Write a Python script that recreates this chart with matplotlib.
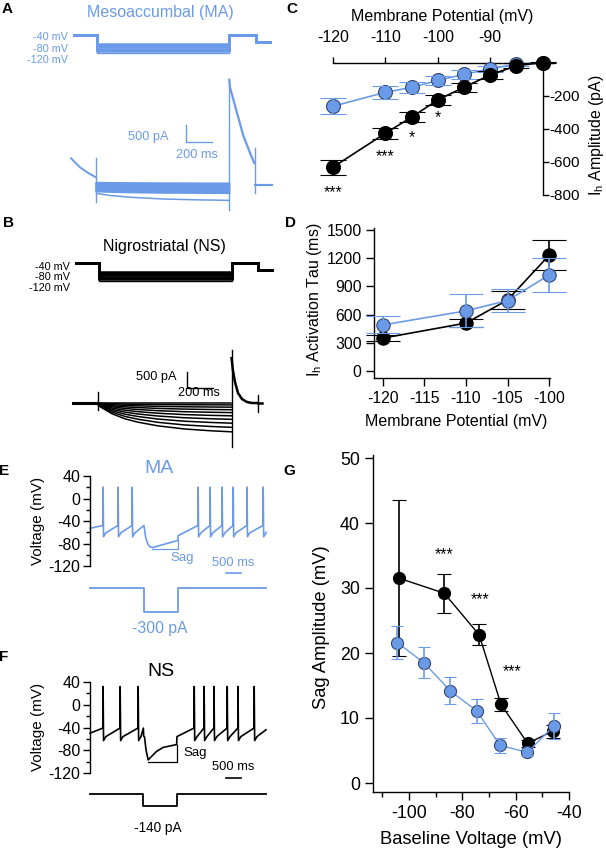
import numpy as np
import matplotlib
matplotlib.use('Agg')
import matplotlib.pyplot as plt

plt.rcParams['font.family'] = ['Liberation Sans', 'DejaVu Sans']
plt.rcParams['mathtext.default'] = 'regular'
plt.rcParams['axes.linewidth'] = 1.0
plt.rcParams['axes.unicode_minus'] = False

W, H = 606, 852
BLUE = '#6b9be8'
BLK = '#000000'
EDGE_B = '#34466b'

# ---------------- data ----------------
# A/B voltage protocols (ms, mV)
prot_t = [0, 180, 1190, 1390, 1505]
prot_hold = -40
prot_after = -70
step_mv = [-80, -85, -90, -95, -100, -105, -110, -120]

# A (MA) current keypoints (ms, pA)
a_pre_t = [-15, 50, 115, 170]
a_pre_i = [800, 540, 360, 240]
a_on_i = [800, -510]
a_band_start = [60, 25, -10, -45, -80, -115, -150, -185, -250]
a_band_end = [40, 0, -35, -75, -115, -155, -195, -235, -460]
a_act_t = [0, 100, 250, 500, 750, 1008]
a_act_f = [0, 0.3, 0.55, 0.8, 0.92, 1.0]
a_off_i = [-750, 3150]
a_tail_t = [1190, 1196, 1249, 1295, 1348, 1380]
a_tail_i = [3150, 2910, 2160, 1500, 960, 660]
a_end_i = [1110, -240]
a_post_t = [1383, 1515]

# B (NS) current keypoints (ms, pA)
b_base_t = [-15, 175]
b_on_i = [340, -220]
b_fan_start = [0, -10, -20, -30, -40, -50, -60, -70, -80, -90]
b_fan_end = [0, -60, -130, -210, -300, -400, -510, -630, -760, -900]
b_act_t = [0, 50, 100, 200, 300, 450, 650, 850, 1008]
b_act_f = [0, 0.15, 0.3, 0.5, 0.63, 0.77, 0.89, 0.96, 1.0]
b_off_i = [-1370, 1650]
b_tail_t = [1190, 1200, 1216, 1239, 1269, 1307, 1345, 1388]
b_tail_i = [1400, 1030, 656, 312, 125, 31, 0, 0]
b_end_i = [250, -280]
b_post_t = [1392, 1420]

# C: Ih amplitude vs membrane potential
c_v = [-120, -110, -105, -100, -95, -90, -85, -80]
c_ma = [-264, -180, -150, -108, -72, -38, -10, 0]
c_ma_err = [47, 40, 32, 27, 25, 18, 10, 5]
c_ns = [-632, -427, -330, -226, -150, -75, -20, 0]
c_ns_err = [45, 33, 30, 30, 28, 22, 15, 5]
c_star_txt = ['***', '***', '*', '*']
c_star_v = [-120, -110, -105, -100]
c_star_y = [-785, -570, -455, -335]

# D: Ih activation tau
d_v = [-120, -110, -105, -100]
d_ns = [350, 510, 755, 1230]
d_ns_err = [30, 40, 100, 160]
d_ma = [490, 640, 750, 1020]
d_ma_err = [90, 175, 125, 180]

# E/F: current-clamp traces (s, mV)
e_spk_pre = [0.43, 0.93, 1.40]
e_spk_post = [3.60, 4.00, 4.40, 4.77, 5.23, 5.77]
e_start, e_thr, e_peak, e_ahp = -53, -48, 20, -68
e_hyp_t = [1.80, 1.86, 1.93, 2.00, 2.10, 2.90, 2.93, 2.94]
e_hyp_v = [-48, -70, -81, -86, -87, -75, -75, -66]
e_end = [5.87, -60]
e_sag_t = [2.06, 2.94, 2.94]
e_sag_v = [-89.5, -89.5, -75]
e_step_t = [0, 1.80, 2.93, 5.87]
e_step_pa = -300

f_spk_pre = [0.43, 1.00, 1.60]
f_spk_post = [3.47, 3.80, 4.13, 4.57, 4.93, 5.47]
f_start, f_thr, f_peak, f_ahp = -50, -41, 32, -63
f_hyp_t = [1.78, 1.79, 1.82, 1.87, 1.94, 2.05, 2.22, 2.44, 2.89, 2.90]
f_hyp_v = [-41, -55, -57, -80, -97, -91, -82, -75, -70, -56]
f_end = [5.87, -44]
f_sag_t = [1.93, 2.90, 2.90]
f_sag_v = [-100, -100, -70]
f_step_t = [0, 1.78, 2.90, 5.87]
f_step_pa = -140

# G: sag amplitude vs baseline voltage
g_ns_v = [-103.7, -86.8, -73.7, -65.5, -55.5, -46.0]
g_ns = [31.5, 29.2, 22.8, 12.1, 6.1, 8.0]
g_ns_err = [12.0, 3.0, 1.6, 1.0, 0.5, 1.0]
g_ma_v = [-104.4, -94.4, -84.6, -74.6, -65.9, -55.6, -45.7]
g_ma = [21.6, 18.5, 14.2, 11.1, 5.8, 4.7, 8.8]
g_ma_err = [2.5, 2.4, 2.1, 1.9, 1.2, 0.5, 2.0]
g_star_v = [-87.0, -73.4, -61.2]
g_star_y = [35.2, 28.2, 17.1]

# ---------------- helpers ----------------
fig = plt.figure(figsize=(W / 100, H / 100), dpi=100)


def box(x0, y0, x1, y1):
    return [x0 / W, 1 - y1 / H, (x1 - x0) / W, (y1 - y0) / H]


def ftext(x, y, s, **kw):
    kw.setdefault('ha', 'center')
    kw.setdefault('va', 'center')
    return fig.text(x / W, 1 - y / H, s, **kw)


def mk(x0, y0, x1, y1, xref, yref, off=True):
    ax = fig.add_axes(box(x0, y0, x1, y1))
    pa, va, pb, vb = xref
    s = (vb - va) / (pb - pa)
    ax.set_xlim(va + (x0 - pa) * s, va + (x1 - pa) * s)
    pa, va, pb, vb = yref
    s = (vb - va) / (pb - pa)
    ax.set_ylim(va + (y1 - pa) * s, va + (y0 - pa) * s)
    if off:
        ax.axis('off')
    return ax


def ebar(ax, x, y, e, color, mec, ms, cap, z=3, lw=1.2):
    c = ax.errorbar(x, y, yerr=e, color=color, marker='o', ms=ms, mfc=color,
                    mec=mec, mew=0.8, lw=lw, elinewidth=1.2, capsize=cap,
                    capthick=1.2, zorder=z)
    arts = [c.lines[0]] + list(c.lines[1]) + list(c.lines[2])
    for a in arts:
        a.set_clip_on(False)
        a.set_zorder(z)
    return c


def protocol(ax, color):
    for v in step_mv:
        t = [prot_t[0], prot_t[1], prot_t[1], prot_t[2], prot_t[2], prot_t[3], prot_t[3], prot_t[4]]
        y = [prot_hold, prot_hold, v, v, prot_hold, prot_hold, prot_after, prot_after]
        lw = 1.0 if v == step_mv[-1] else 1.8
        ax.plot(t, y, color=color, lw=lw, solid_joinstyle='miter', solid_capstyle='butt')


def spikes(ts, vs, spk, thr, peak, ahp):
    for s in spk:
        ts += [s, s + 0.006, s + 0.022, s + 0.1]
        vs += [thr, peak, ahp, ahp + 7]


def vtrace(start, spk_pre, hyp_t, hyp_v, spk_post, thr, peak, ahp, end):
    ts, vs = [0.0], [start]
    spikes(ts, vs, spk_pre, thr, peak, ahp)
    ts += list(hyp_t)
    vs += list(hyp_v)
    spikes(ts, vs, spk_post, thr, peak, ahp)
    if ts[-1] >= end[0]:
        ts.pop(); vs.pop()
    ts.append(end[0]); vs.append(end[1])
    return ts, vs


# ---------------- Panel A ----------------
ftext(7, 9, 'A', fontsize=11, fontweight='bold')
ftext(160, 13, 'Mesoaccumbal (MA)', fontsize=11.5, color=BLUE)
axAp = mk(60, 25, 285, 65, (73, 0, 270, 1500), (35, -40, 53, -120))
protocol(axAp, BLUE)
for yy, s in zip([37, 49, 60], ['-40 mV', '-80 mV', '-120 mV']):
    ftext(68, yy, s, ha='right', fontsize=7.8, color=BLUE)

axAc = mk(60, 70, 285, 215, (73, 0, 270, 1500), (185, 0, 168.3, 500))
axAc.plot(a_pre_t, a_pre_i, color=BLUE, lw=1.4)
axAc.plot([172, 172], a_on_i, color=BLUE, lw=1.0)
for k, (s0, s1) in enumerate(zip(a_band_start, a_band_end)):
    t = [prot_t[1] + tt for tt in a_act_t]
    i = [s0 + (s1 - s0) * f for f in a_act_f]
    lw = 1.1 if k == len(a_band_start) - 1 else 1.8
    axAc.plot(t, i, color=BLUE, lw=lw)
axAc.plot([prot_t[2], prot_t[2]], a_off_i, color=BLUE, lw=1.0)
axAc.plot(a_tail_t, a_tail_i, color=BLUE, lw=1.6)
axAc.plot([1382, 1382], a_end_i, color=BLUE, lw=1.0)
axAc.plot(a_post_t, [0, 0], color=BLUE, lw=1.6)
# scale bar 500 pA / 200 ms
axAc.plot([860, 860, 1060], [1790, 1290, 1290], color=BLUE, lw=1.0)
ftext(168, 137, '500 pA', ha='right', fontsize=9.2, color=BLUE)
ftext(197, 155, '200 ms', fontsize=9.2, color=BLUE)

# ---------------- Panel B ----------------
ftext(9, 223, 'B', fontsize=11, fontweight='bold')
ftext(164, 246, 'Nigrostriatal (NS)', fontsize=11.5, color=BLK)
axBp = mk(60, 255, 285, 292, (75, 0, 273, 1505), (263, -40, 272, -80))
protocol(axBp, BLK)
for yy, s in zip([267, 277, 288], ['-40 mV', '-80 mV', '-120 mV']):
    ftext(70, yy, s, ha='right', fontsize=7.8, color=BLK)

axBc = mk(60, 340, 285, 450, (75, 0, 273, 1505), (403, 0, 387, 500))
axBc.plot(b_base_t, [0, 0], color=BLK, lw=2.2)
axBc.plot([177, 177], b_on_i, color=BLK, lw=1.0)
for s0, s1 in zip(b_fan_start, b_fan_end):
    t = [prot_t[1] + tt for tt in b_act_t]
    i = [s0 + (s1 - s0) * f for f in b_act_f]
    axBc.plot(t, i, color=BLK, lw=1.1)
axBc.plot([prot_t[2], prot_t[2]], b_off_i, color=BLK, lw=1.0)
axBc.plot(b_tail_t, b_tail_i, color=BLK, lw=1.8)
axBc.plot([1390, 1390], b_end_i, color=BLK, lw=1.0)
axBc.plot(b_post_t, [0, 0], color=BLK, lw=1.8)
axBc.plot([851, 851, 1051], [970, 470, 470], color=BLK, lw=1.0)
ftext(177, 377, '500 pA', ha='right', fontsize=9.2, color=BLK)
ftext(199, 393, '200 ms', fontsize=9.2, color=BLK)

# ---------------- Panel C ----------------
ftext(292, 9, 'C', fontsize=11, fontweight='bold')
axC = fig.add_axes(box(333, 62.5, 553, 195))
axC.set_xlim(-120, -78)
axC.set_ylim(-800, 0)
ebar(axC, c_v, c_ma, c_ma_err, BLUE, EDGE_B, 10, 9.5, z=3)
ebar(axC, c_v, c_ns, c_ns_err, BLK, BLK, 10, 9.5, z=4)
for s, v, y in zip(c_star_txt, c_star_v, c_star_y):
    axC.text(v, y, s, ha='center', va='center', fontsize=11.5)
axC.spines['left'].set_visible(False)
axC.spines['bottom'].set_visible(False)
axC.spines['right'].set_position(('data', -80))
axC.xaxis.tick_top()
axC.yaxis.tick_right()
axC.set_xticks([-120, -110, -100, -90])
axC.set_yticks([-200, -400, -600, -800])
axC.tick_params(axis='x', direction='out', length=4.5, width=1, pad=8, labelsize=11.5)
axC.tick_params(axis='y', direction='out', length=4, width=1, pad=1, labelsize=11)
ftext(442, 17, 'Membrane Potential (mV)', fontsize=11.5)
ftext(596, 135, 'I$_h$ Amplitude (pA)', fontsize=11.4, rotation=90)

# ---------------- Panel D ----------------
ftext(291, 223, 'D', fontsize=11, fontweight='bold')
axD = mk(374, 228, 550, 378, (383, -120, 549, -100), (371, 0, 230, 1500), off=False)
ebar(axD, d_v, d_ns, d_ns_err, BLK, BLK, 9.6, 12, z=3)
ebar(axD, d_v, d_ma, d_ma_err, BLUE, EDGE_B, 9.6, 12, z=4)
axD.spines['top'].set_visible(False)
axD.spines['right'].set_visible(False)
axD.set_xticks([-120, -115, -110, -105, -100])
axD.set_yticks([0, 300, 600, 900, 1200, 1500])
axD.tick_params(direction='out', length=5.5, width=1, labelsize=11.3)
axD.tick_params(axis='x', pad=4)
ftext(456, 422, 'Membrane Potential (mV)', fontsize=11.5)
ftext(315, 300, 'I$_h$ Activation Tau (ms)', fontsize=11.5, rotation=90)

# ---------------- Panel E ----------------
ftext(4, 471, 'E', fontsize=11, fontweight='bold')
ftext(159, 468, 'MA', fontsize=14, color=BLUE)
axE = fig.add_axes(box(90, 476, 266, 566))
axE.set_xlim(0, 5.87)
axE.set_ylim(-120, 40)
et, ev = vtrace(e_start, e_spk_pre, e_hyp_t, e_hyp_v, e_spk_post, e_thr, e_peak, e_ahp, e_end)
axE.plot(et, ev, color=BLUE, lw=1.2, clip_on=False)
axE.plot(e_sag_t, e_sag_v, color=BLUE, lw=0.9, clip_on=False)
axE.text(2.67, -105, 'Sag', fontsize=9.5, color=BLUE, ha='left', va='center')
axE.plot([4.53, 5.03], [-131.6, -131.6], color=BLUE, lw=1.2, clip_on=False)
axE.text(4.78, -114, '500 ms', fontsize=9.3, color=BLUE, ha='center', va='center')
ftext(38, 521, 'Voltage (mV)', fontsize=11, rotation=90)

axEs = mk(85, 580, 270, 620, (90, 0, 266, 5.87), (588, 0, 612, -300))
axEs.plot([e_step_t[0], e_step_t[1], e_step_t[1], e_step_t[2], e_step_t[2], e_step_t[3]],
          [0, 0, e_step_pa, e_step_pa, 0, 0], color=BLUE, lw=1.3)
ftext(160, 628, '-300 pA', fontsize=11.3, color=BLUE)

# ---------------- Panel F ----------------
ftext(4, 657, 'F', fontsize=11, fontweight='bold')
ftext(161, 672, 'NS', fontsize=14, color=BLK)
axF = fig.add_axes(box(90, 682, 266, 773))
axF.set_xlim(0, 5.87)
axF.set_ylim(-120, 40)
ft, fv = vtrace(f_start, f_spk_pre, f_hyp_t, f_hyp_v, f_spk_post, f_thr, f_peak, f_ahp, f_end)
axF.plot(ft, fv, color=BLK, lw=1.2, clip_on=False)
axF.plot(f_sag_t, f_sag_v, color=BLK, lw=0.9, clip_on=False)
axF.text(3.1, -84, 'Sag', fontsize=9.5, color=BLK, ha='left', va='center')
axF.plot([4.53, 5.03], [-128, -128], color=BLK, lw=1.2, clip_on=False)
axF.text(4.78, -109, '500 ms', fontsize=9.3, color=BLK, ha='center', va='center')
ftext(38, 727, 'Voltage (mV)', fontsize=11, rotation=90)

axFs = mk(85, 785, 270, 815, (90, 0, 266, 5.87), (794, 0, 806, -140))
axFs.plot([f_step_t[0], f_step_t[1], f_step_t[1], f_step_t[2], f_step_t[2], f_step_t[3]],
          [0, 0, f_step_pa, f_step_pa, 0, 0], color=BLK, lw=1.3)
ftext(158, 828, '-140 pA', fontsize=9.8, color=BLK)

for ax in (axE, axF):
    ax.spines['top'].set_visible(False)
    ax.spines['right'].set_visible(False)
    ax.spines['bottom'].set_visible(False)
    ax.set_xticks([])
    ax.set_yticks([40, 0, -40, -80, -120])
    ax.set_yticks([20, -20, -60, -100], minor=True)
    ax.tick_params(axis='y', which='major', direction='out', length=5, width=1, labelsize=11.5, pad=2)
    ax.tick_params(axis='y', which='minor', direction='out', length=3, width=1)

# ---------------- Panel G ----------------
ftext(289, 471, 'G', fontsize=11, fontweight='bold')
axG = mk(373, 455, 569, 792, (409, -100, 569, -40), (783, 0, 458, 50), off=False)
ebar(axG, g_ns_v, g_ns, g_ns_err, BLK, BLK, 8.7, 5, z=3, lw=1.0)
ebar(axG, g_ma_v, g_ma, g_ma_err, BLUE, EDGE_B, 8.7, 4.3, z=4, lw=1.0)
for v, y in zip(g_star_v, g_star_y):
    axG.text(v, y, '***', ha='center', va='center', fontsize=11.5)
axG.spines['top'].set_visible(False)
axG.spines['right'].set_visible(False)
axG.set_xticks([-100, -80, -60, -40])
axG.set_xticks([-110, -90, -70, -50], minor=True)
axG.set_yticks([0, 10, 20, 30, 40, 50])
axG.tick_params(which='major', direction='out', length=6, width=1, labelsize=12.8)
axG.tick_params(which='minor', direction='out', length=3.5, width=1)
ftext(471, 840, 'Baseline Voltage (mV)', fontsize=13.2)
ftext(322, 627, 'Sag Amplitude (mV)', fontsize=13.2, rotation=90)

fig.savefig('out.png', dpi=100)
